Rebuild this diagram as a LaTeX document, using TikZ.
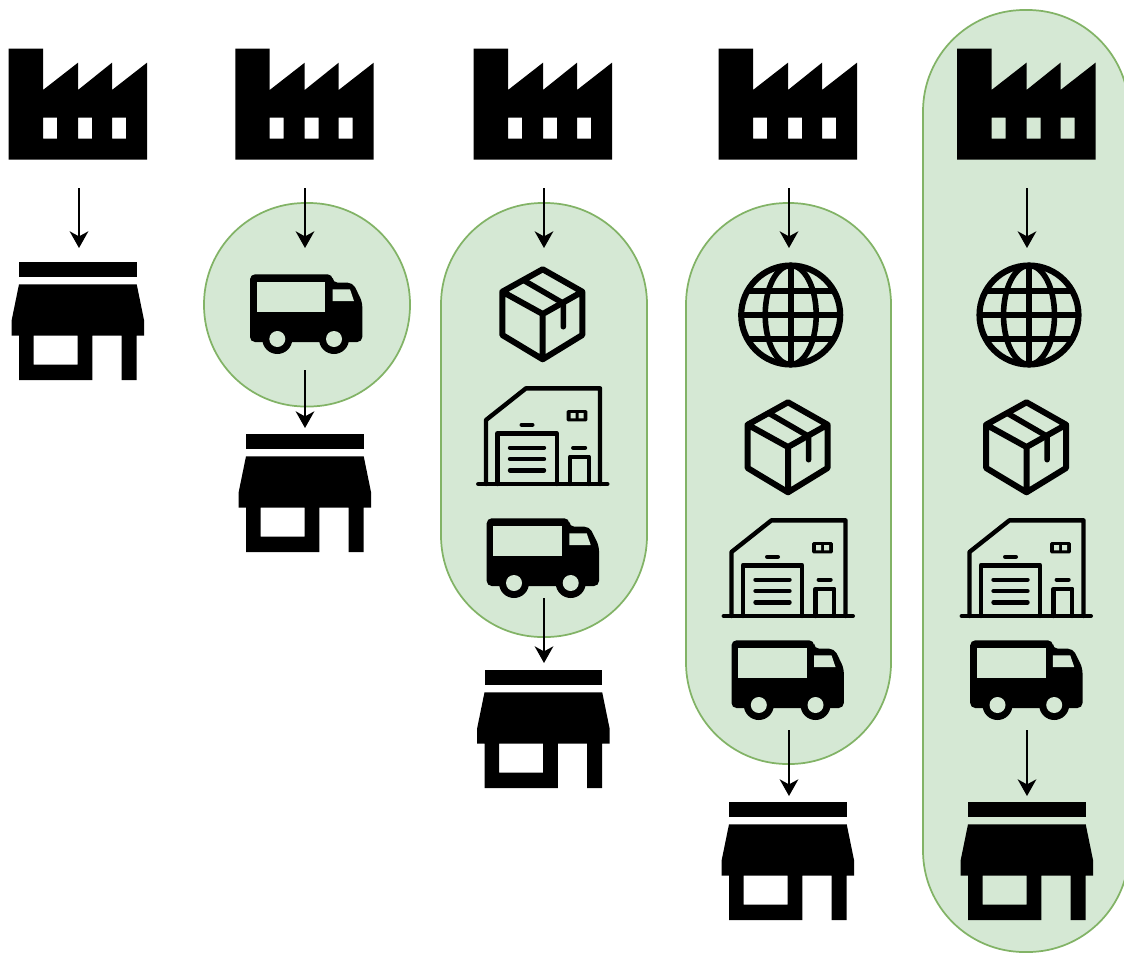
\documentclass[tikz,border=0pt]{standalone}
\usetikzlibrary{arrows.meta}
\definecolor{pillfill}{HTML}{D5E8D4}
\definecolor{pillline}{HTML}{82B366}
\tikzset{
  x=0.75pt,y=-0.75pt,
  pill/.style={fill=pillfill,draw=pillline,line width=1.3pt,rounded corners=#1},
  flow/.style={draw=black,line width=1.2pt,-{Stealth[length=12.5pt,width=14pt,inset=3.8pt]}},
  hole/.style={fill=pillfill,draw=none},
  factory/.pic={
    \fill[black,even odd rule]
      (8.7,48.7)--(43,48.7)--(43,90)--(78,62.7)--(78,90)--(112,62.7)--(112,90)--(147,62.7)--(147,159.5)--(8.7,159.5)--cycle
      (43,117.7) rectangle (57,138.7)
      (78,117.7) rectangle (92,138.7)
      (112,117.7) rectangle (126,138.7);
  },
  store/.pic={
    \fill[black] (19,262.3) rectangle (136.7,277);
    \fill[black,even odd rule]
      (19,284.3)--(136.7,284.3)--(144,320)--(144,335.7)--(136.7,335.7)--(136.7,380)--(121.7,380)--(121.7,335.7)--(92.3,335.7)--(92.3,380)--(19,380)--(19,335.7)--(11.7,335.7)--(11.7,320)--cycle
      (33.7,335.7) rectangle (77.7,364.7);
  },
  truck/.pic={
    \fill[black,rounded corners=3.75pt]
      (486.7,518.3)--(569.3,518.3)--(569.3,526.7)--(589.5,526.7)--(599,546)--(599,586)--(486.7,586)--cycle;
    \fill[black] (514,583) circle (15) (570.7,583) circle (15);
    \fill[hole] (514,583) circle (8) (570.7,583) circle (8);
    \fill[hole] (493.3,526) rectangle (562,556);
    \fill[hole] (569.3,533.3)--(586.7,533.3)--(590.7,545)--(569.3,545)--cycle;
  },
  parcel/.pic={
    \draw[black,line width=4.5pt,line join=round,line cap=round]
      (542.7,269.3)--(582.3,291.7)--(582.3,335)--(542.7,359.3)--(502.3,335)--(502.3,291.7)--cycle
      (502.3,291.7)--(542.7,314)--(582.3,291.7)
      (542.7,314)--(542.7,359.3);
    \draw[black,line width=4.2pt,line join=round,line cap=round]
      (524.3,280.7)--(563.3,303.3)--(563.3,326.7);
  },
  depot/.pic={
    \begin{scope}[black,line width=3.3pt,line join=round,line cap=round]
      \draw (478.3,484)--(607.3,484);
      \draw (486,484)--(486,420)--(526,388.3)--(600,388.3)--(600,484);
      \draw (497.3,484)--(497.3,433.3)--(556.7,433.3)--(556.7,484);
      \draw (510,447.7)--(544,447.7) (510,459)--(544,459) (510,470.3)--(544,470.3);
      \draw (521.7,424.7)--(532.3,424.7);
      \draw (573.3,447.7)--(585,447.7);
      \draw (570,484)--(570,456.7)--(588.7,456.7)--(588.7,484);
    \end{scope}
    \fill[black,rounded corners=1pt] (566.7,410) rectangle (587.3,421.3);
    \fill[hole] (570.5,413) rectangle (575.5,418.3) (578.5,413) rectangle (583.5,418.3);
  },
  globe/.pic={
    \begin{scope}[black,line width=4.6pt]
      \draw (790.7,315) circle (49.5);
      \draw[line width=4.2pt] (790.7,265.5)--(790.7,364.5);
      \draw[line width=4.2pt] (741.2,315)--(840.2,315);
      \draw[line width=4.2pt] (746,291)--(835.4,291) (746,339)--(835.4,339);
      \draw[line width=4.2pt] (790.7,315) ellipse [x radius=25.5,y radius=49.5];
    \end{scope}
  }
}
\begin{document}
\begin{tikzpicture}
\useasboundingbox (0,0) rectangle (1124,953);
\fill[white] (0,0) rectangle (1124,953);
\begin{scope}
\clip (0,0) rectangle (1124,953);
\draw[pill=76pt] (204,203) rectangle (410,406.5);
\draw[pill=76pt] (441,203) rectangle (647,637);
\draw[pill=76pt] (686,203) rectangle (891,764);
\draw[pill=76pt] (923,10) rectangle (1129,952);
\end{scope}

% factories
\pic (f1) at (0,0) {factory};
\pic (f2) at (226.7,0) {factory};
\pic (f3) at (465,0) {factory};
\pic (f4) at (710,0) {factory};
\pic (f5) at (948.5,0) {factory};

% stores
\pic (s1) at (0,0) {store};
\pic (s2) at (227,172) {store};
\pic (s3) at (465.5,408) {store};
\pic (s4) at (710,540) {store};
\pic (s5) at (949,540) {store};

% trucks
\pic (t2) at (-236.7,-244) {truck};
\pic (t3) at (0,0) {truck};
\pic (t4) at (244.8,122) {truck};
\pic (t5) at (483.5,122) {truck};

% parcels
\pic (p3) at (0,0) {parcel};
\pic (p4) at (245.3,133) {parcel};
\pic (p5) at (483.8,133) {parcel};

% depots
\pic (d3) at (0,0) {depot};
\pic (d4) at (245.5,132) {depot};
\pic (d5) at (483.5,132) {depot};

% globes
\pic (g4) at (0,0) {globe};
\pic (g5) at (238.3,0) {globe};

% connector ends
\coordinate (a1s) at (79,188);   \coordinate (a1e) at (79,248);
\coordinate (a2s) at (305,188);  \coordinate (a2e) at (305,248);
\coordinate (b2s) at (305,370);  \coordinate (b2e) at (305,428);
\coordinate (a3s) at (544,188);  \coordinate (a3e) at (544,248);
\coordinate (b3s) at (544,598);  \coordinate (b3e) at (544,663);
\coordinate (a4s) at (789,188);  \coordinate (a4e) at (789,248);
\coordinate (b4s) at (789,730);  \coordinate (b4e) at (789,796);
\coordinate (a5s) at (1027,188); \coordinate (a5e) at (1027,248);
\coordinate (b5s) at (1027,730); \coordinate (b5e) at (1027,796);

\draw[flow] (a1s)--(a1e);
\draw[flow] (a2s)--(a2e);
\draw[flow] (b2s)--(b2e);
\draw[flow] (a3s)--(a3e);
\draw[flow] (b3s)--(b3e);
\draw[flow] (a4s)--(a4e);
\draw[flow] (b4s)--(b4e);
\draw[flow] (a5s)--(a5e);
\draw[flow] (b5s)--(b5e);
\end{tikzpicture}
\end{document}
